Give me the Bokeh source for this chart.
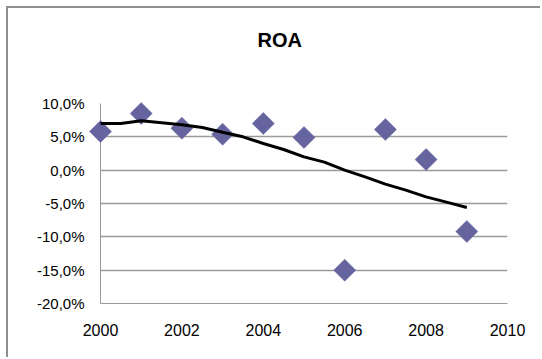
import math
from bokeh.plotting import figure
from bokeh.models import FixedTicker, CustomJSTickFormatter, Range1d, ColumnDataSource, Title
from bokeh.embed import file_html
from bokeh.resources import INLINE

# ---- data ----
title_text = "ROA"
years = [2000, 2001, 2002, 2003, 2004, 2005, 2006, 2007, 2008, 2009]
roa = [5.8, 8.5, 6.3, 5.4, 7.0, 4.9, -15.0, 6.1, 1.6, -9.2]

trend_years = [2000, 2000.5, 2001, 2001.5, 2002, 2002.5, 2003, 2003.5, 2004,
               2004.5, 2005, 2005.5, 2006, 2006.5, 2007, 2007.5, 2008, 2008.5, 2009]
trend_roa = [7.0, 7.0, 7.4, 7.1, 6.8, 6.4, 5.7, 5.0, 4.0,
             3.1, 2.0, 1.2, 0.0, -1.0, -2.1, -3.0, -4.0, -4.8, -5.6]

x_ticks = [2000, 2002, 2004, 2006, 2008, 2010]
y_ticks = [-20, -15, -10, -5, 0, 5, 10]

pts = ColumnDataSource(data=dict(year=years, roa=roa))
trend = ColumnDataSource(data=dict(year=trend_years, roa=trend_roa))

p = figure(width=534, height=351, output_backend="svg", toolbar_location=None,
           title=None,
           x_range=Range1d(2000, 2010), y_range=Range1d(-20, 10),
           min_border_left=92, min_border_right=35,
           min_border_top=95, min_border_bottom=56)

p.styles = {"border-left": "2px solid #8e8e8e", "border-top": "2px solid #8e8e8e",
            "margin-left": "6px", "margin-top": "6px"}

p.outline_line_color = None
p.background_fill_color = "white"
p.border_fill_color = "white"

# an empty spacer panel next to the frame, then the title above it
spacer = Title(text=" ", align="left", standoff=24,
               text_font="Liberation Sans", text_font_size="20px")
title = Title(text=title_text, align="left", offset=157, standoff=10,
              text_font="Liberation Sans", text_font_size="20px",
              text_font_style="bold", text_color="black")
p.add_layout(spacer, "above")
p.add_layout(title, "above")

# axes
p.xaxis.ticker = FixedTicker(ticks=x_ticks)
p.yaxis.ticker = FixedTicker(ticks=y_ticks)
p.yaxis.formatter = CustomJSTickFormatter(code="return tick.toFixed(1).replace('.', ',') + '%';")
for ax in (p.xaxis, p.yaxis):
    ax.major_tick_line_color = None
    ax.minor_tick_line_color = None
    ax.axis_line_color = "#999999"
    ax.axis_line_width = 1
    ax.major_label_text_font = "Liberation Sans"
    ax.major_label_text_color = "black"
p.xaxis.major_label_text_font_size = "16px"
p.yaxis.major_label_text_font_size = "15px"
p.xaxis.major_label_standoff = 14
p.yaxis.major_label_standoff = 10

p.xgrid.grid_line_color = None
p.ygrid.grid_line_color = "#9a9a9a"
p.ygrid.grid_line_width = 1.5

# points (diamonds) and trend line, drawn unclipped like the reference
p.scatter("year", "roa", source=pts, marker="square", size=15.6, angle=math.pi / 4,
          fill_color="#65649F", line_color="#65649F", line_width=0.5, level="overlay")
p.line("year", "roa", source=trend, line_color="black", line_width=3, level="overlay")

open("out.html", "w").write(file_html(p, INLINE))
